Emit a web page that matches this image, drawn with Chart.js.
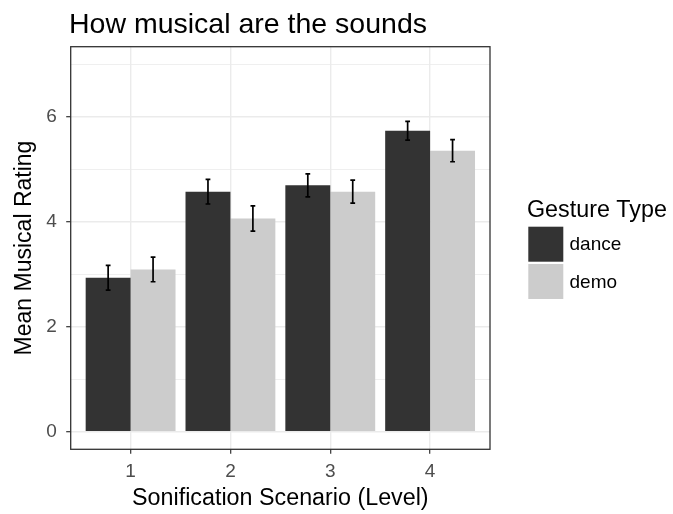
<!DOCTYPE html>
<html>
<head>
<meta charset="utf-8">
<script src="https://cdn.jsdelivr.net/npm/chart.js@4/dist/chart.umd.min.js"></script>
<style>
  html, body { margin: 0; padding: 0; background: #ffffff; }
  #wrap { width: 673px; height: 514px; }
</style>
</head>
<body>
<div id="wrap"><canvas id="chart" width="673" height="514"></canvas></div>
<script>
// Sonification levels and their tick labels
const levels = [1, 2, 3, 4];
const levelLabels = ['1', '2', '3', '4'];

// Mean musical rating per level, by gesture type
const danceMeans = [2.93, 4.57, 4.69, 5.73];
const demoMeans  = [3.09, 4.06, 4.57, 5.35];

// Standard errors (error bar half-lengths)
const danceErr = [0.235, 0.235, 0.22, 0.18];
const demoErr  = [0.235, 0.24, 0.22, 0.21];

// Y axis: labelled major ticks and unlabelled minor grid values
const yMajor = [0, 2, 4, 6];
const yMinor = [1, 3, 5, 7];

const seriesNames = ['dance', 'demo'];
const seriesColors = ['#333333', '#CCCCCC'];

const FONT = '"Liberation Sans", Arial, Helvetica, sans-serif';

const toPoints = (vals) => levels.map((x, i) => ({ x: x, y: vals[i] }));

// Error bars drawn over each bar from the series errors
const errorBars = {
  id: 'errorBars',
  afterDatasetsDraw(chart) {
    const ctx = chart.ctx;
    const y = chart.scales.y;
    const errs = [danceErr, demoErr];
    ctx.save();
    ctx.strokeStyle = '#000000';
    ctx.lineWidth = 1.7;
    chart.data.datasets.forEach((ds, di) => {
      const meta = chart.getDatasetMeta(di);
      meta.data.forEach((bar, i) => {
        const v = ds.data[i].y;
        const e = errs[di][i];
        const top = y.getPixelForValue(v + e);
        const bot = y.getPixelForValue(v - e);
        const cx = bar.x;
        const hw = 2.4;
        ctx.beginPath();
        ctx.moveTo(cx, top); ctx.lineTo(cx, bot);
        ctx.moveTo(cx - hw, top); ctx.lineTo(cx + hw, top);
        ctx.moveTo(cx - hw, bot); ctx.lineTo(cx + hw, bot);
        ctx.stroke();
      });
    });
    ctx.restore();
  }
};

// Panel border, plot title and the legend at the right
const frame = {
  id: 'frame',
  afterDraw(chart) {
    const ctx = chart.ctx;
    const a = chart.chartArea;
    ctx.save();
    ctx.strokeStyle = '#333333';
    ctx.lineWidth = 1.3;
    ctx.strokeRect(a.left, a.top, a.right - a.left, a.bottom - a.top);

    ctx.fillStyle = '#000000';
    ctx.textAlign = 'left';
    ctx.textBaseline = 'alphabetic';
    ctx.font = '28.5px ' + FONT;
    ctx.fillText('How musical are the sounds', 69, 33.3);

    ctx.font = '23.3px ' + FONT;
    ctx.fillText('Gesture Type', 527, 216.5);

    const keyX = 528.3, keySize = 35;
    const keyTops = [226.7, 264];
    ctx.font = '19px ' + FONT;
    seriesNames.forEach((name, i) => {
      ctx.fillStyle = seriesColors[i];
      ctx.fillRect(keyX, keyTops[i], keySize, keySize);
      ctx.fillStyle = '#000000';
      ctx.textBaseline = 'middle';
      ctx.fillText(name, 569.5, keyTops[i] + keySize / 2 + 1);
    });
    ctx.restore();
  }
};

new Chart(document.getElementById('chart'), {
  type: 'bar',
  data: {
    datasets: [
      { label: seriesNames[0], data: toPoints(danceMeans), backgroundColor: seriesColors[0], borderWidth: 0 },
      { label: seriesNames[1], data: toPoints(demoMeans),  backgroundColor: seriesColors[1], borderWidth: 0 }
    ]
  },
  options: {
    responsive: false,
    animation: false,
    devicePixelRatio: 1,
    layout: { padding: { top: 46.7, right: 183, bottom: 0, left: 0 } },
    datasets: { bar: { categoryPercentage: 0.9, barPercentage: 1.0 } },
    plugins: {
      legend: { display: false },
      title: { display: false },
      tooltip: { enabled: false }
    },
    scales: {
      x: {
        type: 'linear',
        min: 0.4,
        max: 4.6,
        offset: false,
        afterBuildTicks(scale) { scale.ticks = levels.map(v => ({ value: v })); },
        afterFit(scale) { scale.height = 64.7; },
        border: { display: false },
        grid: {
          offset: false,
          color: '#EBEBEB',
          lineWidth: 1.4,
          tickColor: '#333333',
          tickLength: 4.5,
          tickWidth: 1.2
        },
        ticks: {
          padding: 7,
          color: '#4D4D4D',
          font: { family: FONT, size: 19 },
          maxRotation: 0,
          autoSkip: false,
          callback: (v) => levelLabels[levels.indexOf(v)]
        },
        title: {
          display: true,
          text: 'Sonification Scenario (Level)',
          color: '#000000',
          font: { family: FONT, size: 23.3 },
          padding: { top: 0, bottom: 1 }
        }
      },
      y: {
        type: 'linear',
        min: -0.335,
        max: 7.33,
        afterBuildTicks(scale) {
          scale.ticks = yMajor.concat(yMinor).sort((a, b) => a - b).map(v => ({ value: v }));
        },
        afterFit(scale) { scale.width = 70.7; },
        border: { display: false },
        grid: {
          color: '#EBEBEB',
          lineWidth: (c) => (yMajor.includes(c.tick && c.tick.value) ? 1.4 : 0.8),
          tickColor: (c) => (yMajor.includes(c.tick && c.tick.value) ? '#333333' : 'rgba(0,0,0,0)'),
          tickLength: 4.5,
          tickWidth: 1.2
        },
        ticks: {
          padding: 9.5,
          color: '#4D4D4D',
          font: { family: FONT, size: 19 },
          autoSkip: false,
          callback: (v) => (yMajor.includes(v) ? String(v) : '')
        },
        title: {
          display: true,
          text: 'Mean Musical Rating',
          color: '#000000',
          font: { family: FONT, size: 23 },
          padding: { top: 11, bottom: 0 }
        }
      }
    }
  },
  plugins: [errorBars, frame]
});
</script>
</body>
</html>
